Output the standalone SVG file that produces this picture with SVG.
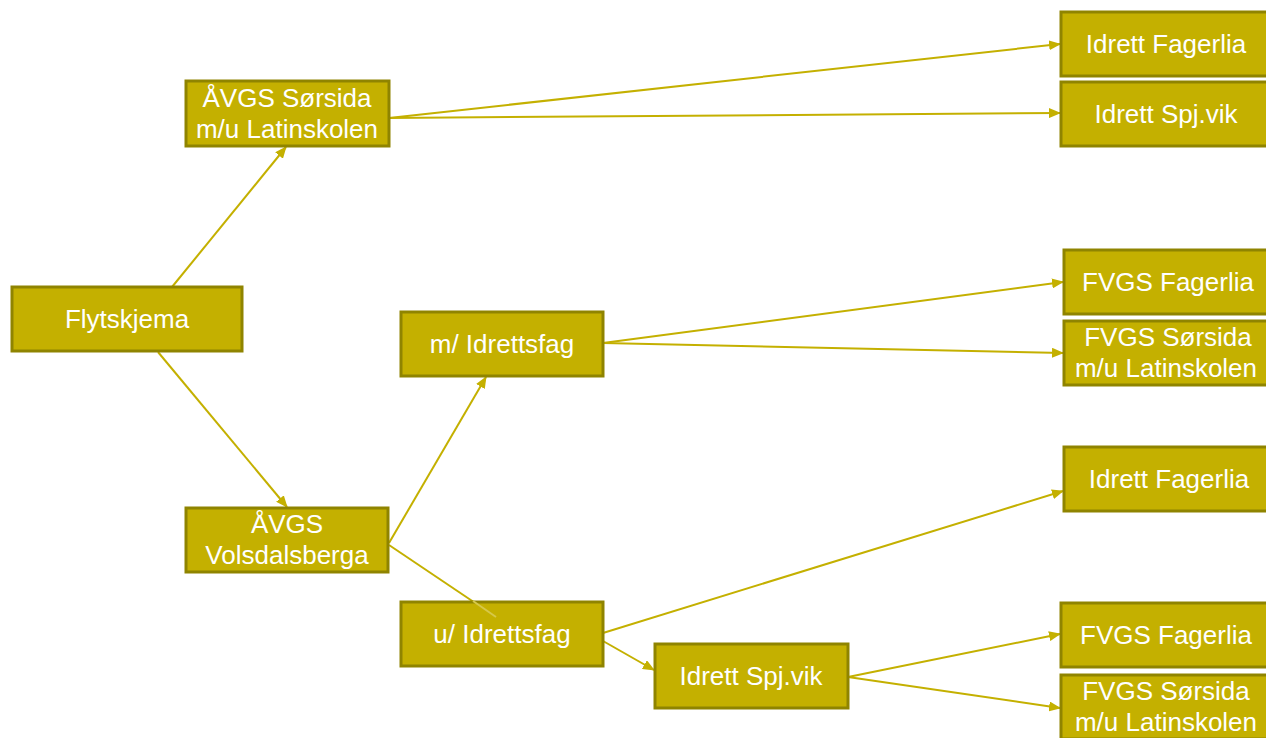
<svg xmlns="http://www.w3.org/2000/svg" width="1266" height="738" viewBox="0 0 1266 738">
<style>
.n rect{fill:#C4B000;stroke:#8F8400;stroke-width:3}
.n text{fill:#FFFFFF;font-family:"Liberation Sans",Arial,sans-serif;font-size:26px;text-anchor:middle}
.c line{stroke:#C4B000;stroke-width:2;marker-end:url(#ah)}
</style>
<defs>
<marker id="ah" markerWidth="12" markerHeight="10" refX="11" refY="5" orient="auto" markerUnits="userSpaceOnUse">
<path d="M0,0 L12,5 L0,10 Z" fill="#C4B000"/>
</marker>
</defs>
<rect width="1266" height="738" fill="#FFFFFF"/>
<g class="c" id="connectors">
<line x1="172" y1="287" x2="286" y2="147"/>
<line x1="158" y1="352" x2="287" y2="507"/>
<line x1="389" y1="118" x2="1060" y2="44"/>
<line x1="389" y1="118" x2="1060" y2="113"/>
<line x1="389" y1="543" x2="486" y2="377"/>
<line x1="389" y1="545" x2="499" y2="619"/>
<line x1="603" y1="343" x2="1063" y2="282"/>
<line x1="603" y1="343" x2="1063" y2="353"/>
<line x1="603" y1="633" x2="1063" y2="491"/>
<line x1="603" y1="641" x2="654" y2="670"/>
<line x1="848" y1="677" x2="1060" y2="634"/>
<line x1="848" y1="677" x2="1060" y2="708"/>
</g>
<g class="n" id="flytskjema"><rect x="12" y="287" width="230" height="64"/><text x="127" y="328">Flytskjema</text></g>
<g class="n" id="avgs-sorsida"><rect x="186" y="81" width="203" height="65"/><text x="287" y="107">ÅVGS Sørsida</text><text x="287" y="138">m/u Latinskolen</text></g>
<g class="n" id="avgs-volsdalsberga"><rect x="186" y="508" width="202" height="64"/><text x="287" y="533">ÅVGS</text><text x="287" y="564">Volsdalsberga</text></g>
<g class="n" id="m-idrettsfag"><rect x="401" y="312" width="202" height="64"/><text x="502" y="353">m/ Idrettsfag</text></g>
<g class="n" id="u-idrettsfag"><rect x="401" y="602" width="202" height="64"/><text x="502" y="643">u/ Idrettsfag</text></g>
<g class="n" id="idrett-spjvik-b"><rect x="655" y="644" width="193" height="64"/><text x="751" y="685">Idrett Spj.vik</text></g>
<g class="n" id="idrett-fagerlia-t"><rect x="1061" y="12" width="210" height="64"/><text x="1166" y="53">Idrett Fagerlia</text></g>
<g class="n" id="idrett-spjvik-t"><rect x="1061" y="82" width="210" height="64"/><text x="1166" y="123">Idrett Spj.vik</text></g>
<g class="n" id="fvgs-fagerlia-m"><rect x="1064" y="250" width="207" height="64"/><text x="1168" y="291">FVGS Fagerlia</text></g>
<g class="n" id="fvgs-sorsida-m"><rect x="1064" y="321" width="207" height="64"/><text x="1168" y="346">FVGS Sørsida</text><text x="1166" y="377">m/u Latinskolen</text></g>
<g class="n" id="idrett-fagerlia-m"><rect x="1064" y="447" width="207" height="64"/><text x="1169" y="488">Idrett Fagerlia</text></g>
<g class="n" id="fvgs-fagerlia-b"><rect x="1061" y="603" width="210" height="64"/><text x="1166" y="644">FVGS Fagerlia</text></g>
<g class="n" id="fvgs-sorsida-b"><rect x="1061" y="675" width="210" height="64"/><text x="1166" y="700">FVGS Sørsida</text><text x="1166" y="731">m/u Latinskolen</text></g>
<g id="connector-overlay">
<line x1="473" y1="601" x2="496" y2="617" stroke="#D6C84A" stroke-width="2"/>
</g>
</svg>
